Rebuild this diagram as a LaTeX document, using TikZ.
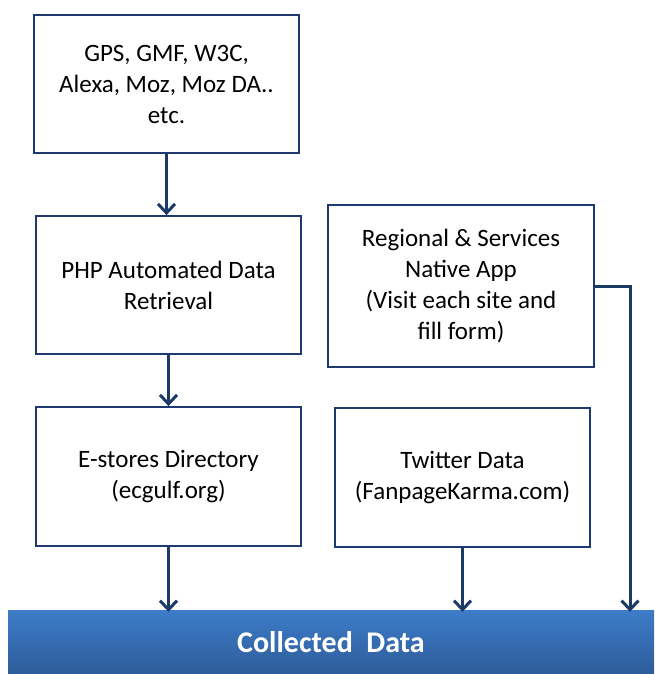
\documentclass[tikz,border=0pt]{standalone}
\usepackage{fontspec}
\setmainfont{Carlito}
\usetikzlibrary{arrows.meta}
\definecolor{boxline}{HTML}{1F3A6E}
\definecolor{flowline}{HTML}{1B3A66}
\definecolor{bartop}{HTML}{3D7CC9}
\definecolor{barbottom}{HTML}{2E5C9A}
\begin{document}
\begin{tikzpicture}[x=1pt,y=-1pt]
			\tikzstyle{block} = [rectangle, draw=boxline, line width=1.8pt, fill=white, align=center, inner sep=0pt, font=\fontsize{25}{31}\selectfont]
			\tikzstyle{bar}   = [rectangle, top color=bartop, bottom color=barbottom, inner sep=0pt, minimum width=646pt, minimum height=64pt, text=white, font=\fontsize{30}{34}\selectfont\bfseries]
			\tikzstyle{flow}  = [-{Straight Barb[length=9pt, width=17pt, line width=3pt]}, draw=flowline, line width=3pt]

			\useasboundingbox (0,0) rectangle (654,674);

			\foreach \name/\x/\y/\w/\h/\text in {
				src/166.5/84/265/138/{GPS, GMF, W3C,\\Alexa, Moz, Moz DA..\\etc.},
				php/168.5/285/265/138/{PHP Automated Data\\Retrieval},
				dir/168.5/476.5/265/139/{E-stores Directory\\(ecgulf.org)},
				app/461/286/266/162/{Regional \& Services\\Native App\\(Visit each site and\\fill form)},
				tw/462.5/477.5/255/139/{Twitter Data\\(FanpageKarma.com)}}
				\node[block, minimum width=\w pt, minimum height=\h pt] (\name) at (\x, \y) {\text};

			\node[bar] (data) at (331, 642) {\raisebox{-3pt}{Collected\ \ Data}};

			\coordinate (bend) at (630, 286);

			\draw[flow] (src.south) -- (src.south |- php.north);
			\draw[flow] (php.south) -- (php.south |- dir.north);
			\foreach \from in {dir, tw}
				\draw[flow] (\from.south) -- ([yshift=-2pt]\from.south |- data.north);
			\draw[flow] (app.east) -- (bend) -- ([yshift=-2pt]bend |- data.north);
		\end{tikzpicture}
\end{document}
